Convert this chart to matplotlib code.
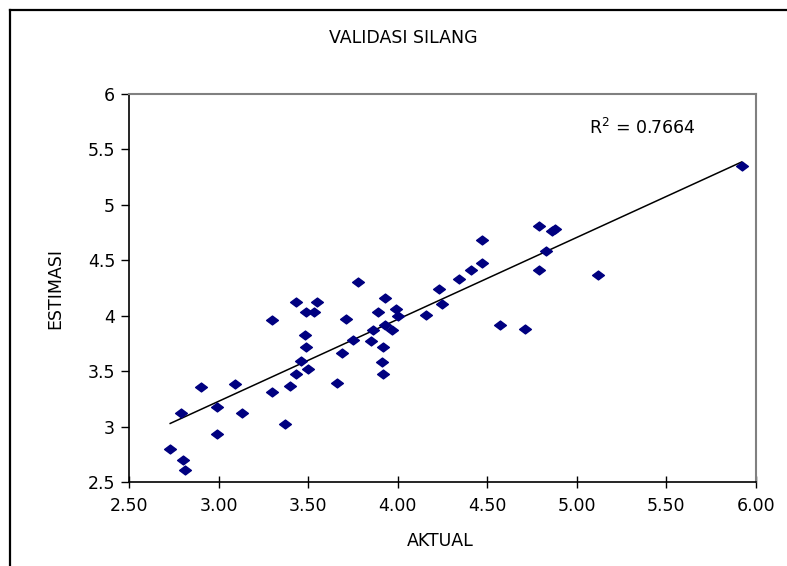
import matplotlib.pyplot as plt
import numpy as np
from matplotlib.path import Path
from matplotlib.lines import Line2D

plt.rcParams['font.family'] = ['DejaVu Sans']

# data
aktual = [2.73, 2.79, 2.80, 2.81, 2.90, 2.99, 2.99, 3.09, 3.13, 3.30,
          3.30, 3.37, 3.40, 3.43, 3.43, 3.46, 3.48, 3.49, 3.49, 3.50,
          3.53, 3.55, 3.66, 3.69, 3.71, 3.75, 3.78, 3.85, 3.86, 3.89,
          3.91, 3.92, 3.92, 3.93, 3.93, 3.97, 3.99, 4.00, 4.16, 4.23,
          4.25, 4.34, 4.41, 4.47, 4.47, 4.57, 4.71, 4.79, 4.79, 4.83,
          4.86, 4.88, 5.12, 5.92]
estimasi = [2.80, 3.12, 2.70, 2.61, 3.36, 3.18, 2.93, 3.38, 3.12, 3.96,
            3.31, 3.02, 3.37, 4.12, 3.47, 3.59, 3.83, 3.72, 4.03, 3.52,
            4.03, 4.12, 3.39, 3.66, 3.97, 3.78, 4.30, 3.77, 3.87, 4.03,
            3.58, 3.47, 3.72, 4.16, 3.92, 3.87, 4.06, 4.00, 4.01, 4.24,
            4.11, 4.33, 4.41, 4.68, 4.48, 3.92, 3.88, 4.81, 4.41, 4.58,
            4.76, 4.78, 4.37, 5.35]
xticks = [2.5, 3.0, 3.5, 4.0, 4.5, 5.0, 5.5, 6.0]
yticks = [2.5, 3.0, 3.5, 4.0, 4.5, 5.0, 5.5, 6.0]
r2_text = 'R$^2$ = 0.7664'

x = np.array(aktual)
y = np.array(estimasi)

fig = plt.figure(figsize=(7.87, 5.66), dpi=100)
ax = fig.add_axes([0.1639, 0.1484, 0.9606 - 0.1639, 0.8339 - 0.1484])

# flattened diamond marker
diamond = Path([(-1, 0), (0, 0.75), (1, 0), (0, -0.75), (-1, 0)],
               [Path.MOVETO, Path.LINETO, Path.LINETO, Path.LINETO, Path.CLOSEPOLY])
ax.plot(x, y, linestyle='none', marker=diamond, markersize=8.5,
        color='#000080', markeredgecolor='#000080', zorder=3)

# linear trend line
slope, intercept = np.polyfit(x, y, 1)
xl = np.array([x.min(), x.max()])
ax.plot(xl, slope * xl + intercept, color='black', linewidth=1.1, zorder=2)

ax.text(5.07, 5.69, r2_text, fontsize=12.5, va='center', ha='left')

ax.set_xlim(2.5, 6.0)
ax.set_ylim(2.5, 6.0)
ax.set_xticks(xticks)
ax.set_xticklabels([f'{v:.2f}' for v in xticks])
ax.set_yticks(yticks)
ax.set_yticklabels([f'{v:g}' for v in yticks])
ax.tick_params(axis='x', direction='inout', length=9, width=1, labelsize=12.5, pad=6)
ax.tick_params(axis='y', direction='out', length=6, width=1, labelsize=12.5, pad=4)

for side in ['top', 'right']:
    ax.spines[side].set_color('#808080')
    ax.spines[side].set_linewidth(1.5)
for side in ['left', 'bottom']:
    ax.spines[side].set_color('black')
    ax.spines[side].set_linewidth(1.2)

fig.text(0.513, 0.933, 'VALIDASI SILANG', fontsize=12.5, ha='center', va='center')
fig.text(0.559, 0.044, 'AKTUAL', fontsize=12.5, ha='center', va='center')
fig.text(0.070, 0.491, 'ESTIMASI', fontsize=12.5, ha='center', va='center', rotation=90)

# outer chart frame (only left and top edges fall inside the picture)
fig.add_artist(Line2D([0.0125, 0.0125], [0.0, 0.983], color='black', linewidth=1.6,
                      transform=fig.transFigure))
fig.add_artist(Line2D([0.0125, 1.0], [0.983, 0.983], color='black', linewidth=1.6,
                      transform=fig.transFigure))

fig.savefig('out.png', dpi=100)
